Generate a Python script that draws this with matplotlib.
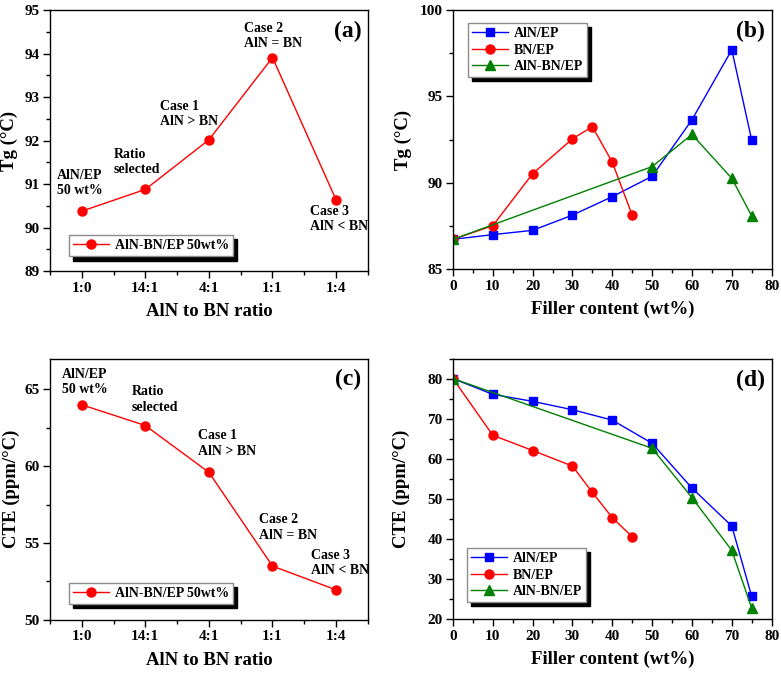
import numpy as np
import matplotlib
matplotlib.use("Agg")
import matplotlib.pyplot as plt
from matplotlib.ticker import MultipleLocator

plt.rcParams['font.family'] = ['Liberation Serif', 'DejaVu Serif']
plt.rcParams['font.weight'] = 'bold'
plt.rcParams['axes.labelweight'] = 'bold'
plt.rcParams['mathtext.default'] = 'regular'

# ---- data ----
ratio_labels = ['1:0', '14:1', '4:1', '1:1', '1:4']
tg_ratio = [90.38, 90.88, 92.02, 93.91, 90.64]
cte_ratio = [64.0, 62.65, 59.6, 53.5, 51.95]
ratio_notes = ['AlN/EP\n50 wt%', 'Ratio\nselected', 'Case 1\nAlN > BN',
               'Case 2\nAlN = BN', 'Case 3\nAlN < BN']
# where the notes sit (x index, y value of lower edge)
tg_note_pos = [(-0.39, 90.70), (0.50, 91.18), (1.23, 92.29), (2.55, 94.08), (3.59, 89.87)]
cte_note_pos = [(-0.31, 64.57), (0.78, 63.43), (1.83, 60.54), (2.79, 55.09), (3.61, 52.76)]

aln_x = [0, 10, 20, 30, 40, 50, 60, 70, 75]
aln_tg = [86.73, 87.0, 87.25, 88.13, 89.2, 90.38, 93.65, 97.7, 92.47]
aln_cte = [80.2, 76.25, 74.5, 72.4, 69.8, 64.0, 52.8, 43.3, 25.7]

bn_x = [0, 10, 20, 30, 35, 40, 45]
bn_tg = [86.73, 87.52, 90.53, 92.55, 93.25, 91.19, 88.12]
bn_cte = [80.2, 66.0, 62.2, 58.3, 51.7, 45.4, 40.6]

mix_x = [0, 50, 60, 70, 75]
mix_tg = [86.73, 90.94, 92.8, 90.26, 88.08]
mix_cte = [80.2, 62.75, 50.4, 37.2, 22.75]

TICK_FS = 11
LABEL_FS = 13.5
NOTE_FS = 10
SHADOW = {'ox': 3, 'oy': -3, 'color': 'black', 'alpha': 1}


def style_axes(ax, xmaj, xmin, ymaj, ymin):
    ax.xaxis.set_major_locator(MultipleLocator(xmaj))
    ax.xaxis.set_minor_locator(MultipleLocator(xmin))
    ax.yaxis.set_major_locator(MultipleLocator(ymaj))
    ax.yaxis.set_minor_locator(MultipleLocator(ymin))
    ax.tick_params(which='major', direction='out', length=5, width=1,
                   labelsize=TICK_FS, pad=2.5)
    ax.tick_params(which='minor', direction='out', length=3, width=1)
    for s in ax.spines.values():
        s.set_linewidth(1.0)


def legend(ax, **kw):
    leg = ax.legend(prop={'weight': 'bold', 'size': 10}, fancybox=False,
                    edgecolor='#8c8c8c', framealpha=1, shadow=SHADOW,
                    borderaxespad=0, handlelength=2.6, handletextpad=0.4,
                    labelspacing=0.25, borderpad=0.3, **kw)
    leg.get_frame().set_linewidth(1.0)
    return leg


def ratio_panel(ax, vals, note_pos, ylim, ymaj, ymin, ylabel, tag, leg_anchor, ylab_x):
    idx = np.arange(len(ratio_labels))
    ax.plot(idx, vals, '-o', color='red', lw=1, ms=6.5, mec='red',
            label='AlN-BN/EP 50wt%')
    for note, (nx, ny) in zip(ratio_notes, note_pos):
        ax.text(nx, ny, note, fontsize=NOTE_FS, fontweight='bold',
                ha='left', va='bottom', linespacing=1.25)
    ax.set_xlim(-0.5, 4.5)
    ax.set_ylim(*ylim)
    style_axes(ax, 1, 0.5, ymaj, ymin)
    ax.set_xticks(idx)
    ax.set_xticklabels(ratio_labels)
    ax.set_xlabel('AlN to BN ratio', fontsize=LABEL_FS, labelpad=6)
    ax.set_ylabel(ylabel, fontsize=LABEL_FS)
    ax.yaxis.set_label_coords(ylab_x, 0.5)
    ax.text(0.98, 0.96, tag, transform=ax.transAxes, ha='right', va='top',
            fontsize=17, fontweight='bold')
    legend(ax, loc='lower left', bbox_to_anchor=leg_anchor)


def filler_panel(ax, aln, bn, mix, ylim, ymaj, ymin, ylabel, tag, loc, leg_anchor, ylab_x):
    ax.plot(aln_x, aln, '-s', color='blue', lw=1, ms=5.5, label='AlN/EP')
    ax.plot(bn_x, bn, '-o', color='red', lw=1, ms=6.5, label='BN/EP')
    ax.plot(mix_x, mix, '-^', color='green', lw=1, ms=6.5, label='AlN-BN/EP')
    ax.set_xlim(0, 80)
    ax.set_ylim(*ylim)
    style_axes(ax, 10, 5, ymaj, ymin)
    ax.set_xlabel('Filler content (wt%)', fontsize=LABEL_FS, labelpad=6)
    ax.set_ylabel(ylabel, fontsize=LABEL_FS)
    ax.yaxis.set_label_coords(ylab_x, 0.5)
    ax.text(0.98, 0.96, tag, transform=ax.transAxes, ha='right', va='top',
            fontsize=17, fontweight='bold')
    legend(ax, loc=loc, bbox_to_anchor=leg_anchor)


fig = plt.figure(figsize=(7.81, 6.73), dpi=100)
ax_a = fig.add_axes([0.064, 0.597, 0.407, 0.388])
ax_b = fig.add_axes([0.580, 0.600, 0.408, 0.385])
ax_c = fig.add_axes([0.064, 0.079, 0.407, 0.388])
ax_d = fig.add_axes([0.580, 0.080, 0.408, 0.386])

ratio_panel(ax_a, tg_ratio, tg_note_pos, (89, 95), 1, 0.5, 'Tg (°C)', '(a)',
            (0.06, 0.057), -0.10)
ratio_panel(ax_c, cte_ratio, cte_note_pos, (50, 67), 5, 2.5, 'CTE (ppm/°C)', '(c)',
            (0.06, 0.061), -0.095)
filler_panel(ax_b, aln_tg, bn_tg, mix_tg, (85, 100), 5, 2.5, 'Tg (°C)', '(b)',
             'upper left', (0.047, 0.95), -0.13)
filler_panel(ax_d, aln_cte, bn_cte, mix_cte, (20, 85), 10, 5, 'CTE (ppm/°C)', '(d)',
             'lower left', (0.044, 0.065), -0.135)

fig.savefig('out.png', dpi=100)
